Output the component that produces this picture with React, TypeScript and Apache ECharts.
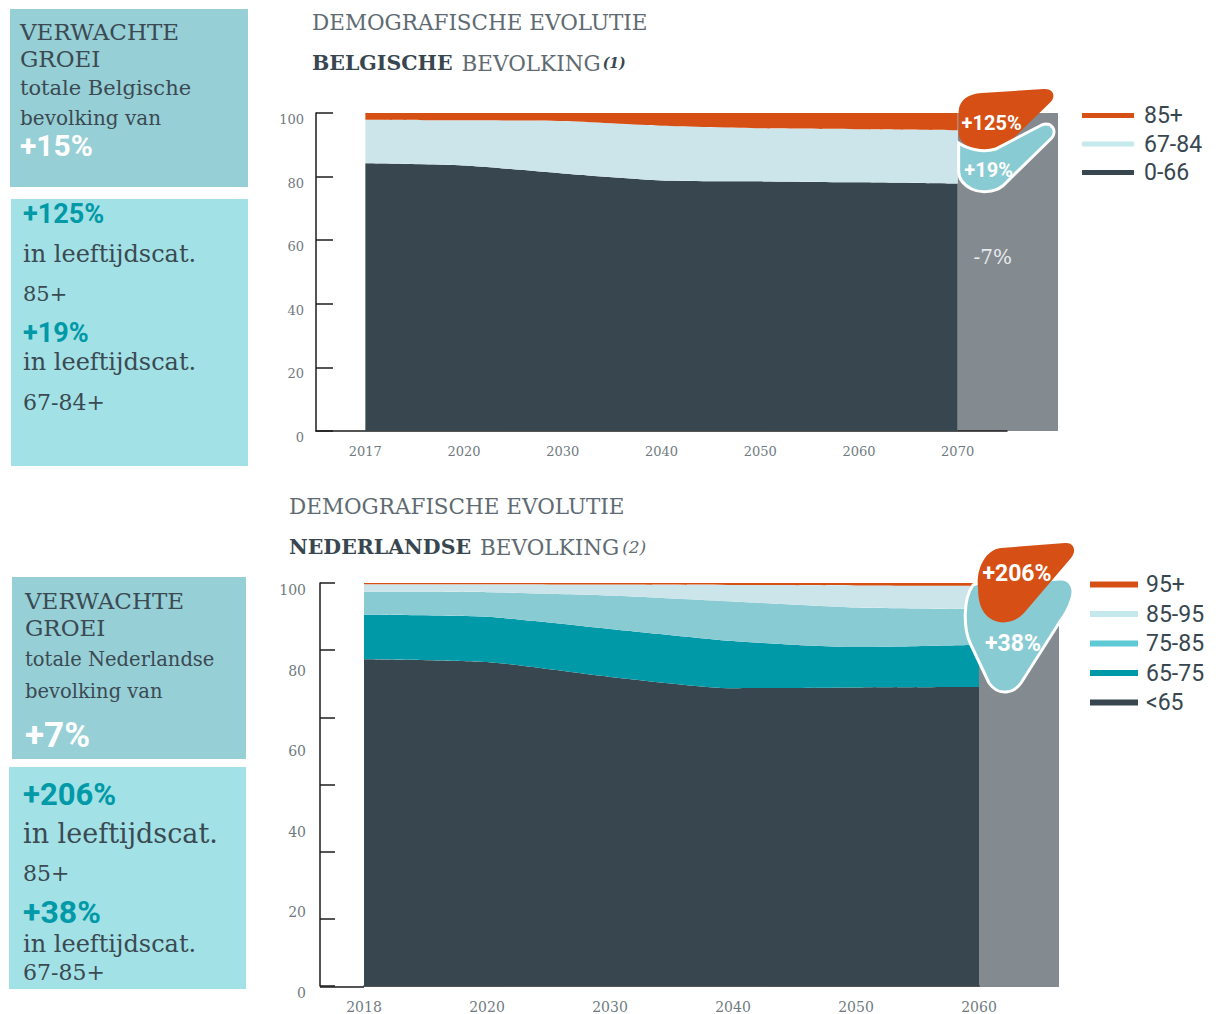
import React, { useEffect, useRef } from "react";
import * as echarts from "echarts";

// ---------- DATA ----------
const beYears = ["2017", "2020", "2030", "2040", "2050", "2060", "2070"];
const be0_66 = [84.2, 83.5, 81.0, 78.8, 78.5, 78.2, 77.8];
const be67_84 = [13.7, 14.2, 16.5, 17.2, 16.7, 16.7, 16.8];
const be85 = [2.1, 2.3, 2.5, 4.0, 4.8, 5.1, 5.4];
const beYTicks = [0, 20, 40, 60, 80, 100];
const beLegend = ["85+", "67-84", "0-66"];

const nlYears = ["2018", "2020", "2030", "2040", "2050", "2060"];
const nlU65 = [81.1, 80.4, 76.7, 73.9, 74.1, 74.2];
const nl65_75 = [11.0, 11.2, 11.9, 11.7, 10.0, 10.5];
const nl75_85 = [5.7, 6.1, 8.3, 9.8, 9.8, 8.8];
const nl85_95 = [1.9, 2.0, 2.7, 4.1, 5.5, 5.8];
const nl95 = [0.3, 0.3, 0.4, 0.5, 0.6, 0.7];
const nlYLabels = [0, 20, 40, 60, 80, 100];
const nlYTicks = [0, 16.67, 33.33, 50, 66.67, 83.33, 100];
const nlLegend = ["95+", "85-95", "75-85", "65-75", "<65"];

// ---------- STYLE / LAYOUT ----------
const C = {
  dark: "#38474f",
  orange: "#d65016",
  light: "#cbe5ea",
  lightLeg: "#c4e8ec",
  mid: "#89cbd3",
  midLeg: "#5ecad6",
  teal: "#0099a7",
  gray: "#848b90",
  box1: "#96cfd6",
  box2: "#a2e1e5",
  text: "#3b4a52",
  axisTxt: "#6f7a80",
  title: "#5f6b72",
};
const SLAB = '"DejaVu Serif", serif';
const SANS = "Roboto, sans-serif";

const T = { left: 316, top: 113, width: 691, height: 318 };
// bottom chart: y axis at 320, first category at 364
const B_AXIS_X = 320;
const B = { left: 364, top: 583, width: 615, height: 404 };
const BAR_RIGHT = 1058;

// blob shapes (local coords, origin = top-left of grey bar)
const P_BE_OR =
  "M 1 -2 C 2 -13 10 -19 24 -20 L 86 -24 C 96 -25 99 -16 92 -10 L 54 27 C 45 36 30 40 18 36 C 8 33 1 28 1 20 Z";
const P_BE_CY =
  "M 1 30 C 10 36 25 40 38 36 L 84 12 C 94 8 100 18 94 25 L 45 73 C 36 80 22 80 14 76 C 6 72 1 66 1 58 Z";
const P_NL_OR =
  "M -1 5 C -3 -12 5 -33 22 -35 L 86 -40 C 95 -41 98 -32 92 -25 L 45 30 C 36 40 22 42 12 36 C 2 30 -1 18 -1 5 Z";
const P_NL_CY =
  "M -6 2 C 4 -2 20 0 30 0 L 80 -4 C 92 -5 97 6 92 18 C 90 25 86 32 80 40 L 42 100 C 35 110 20 114 10 100 L -8 62 C -16 46 -16 16 -6 2 Z";

echarts.graphic.registerShape("blobBeOr", echarts.graphic.extendPath(P_BE_OR, {}));
echarts.graphic.registerShape("blobBeCy", echarts.graphic.extendPath(P_BE_CY, {}));
echarts.graphic.registerShape("blobNlOr", echarts.graphic.extendPath(P_NL_OR, {}));
echarts.graphic.registerShape("blobNlCy", echarts.graphic.extendPath(P_NL_CY, {}));

function txt(
  text: string,
  x: number,
  y: number,
  size: number,
  fill: string,
  family: string,
  weight: any = "normal",
  z = 20,
  align = "left",
  lineHeight?: number
) {
  return {
    type: "text",
    x,
    y,
    z,
    style: {
      text,
      fill,
      fontSize: size,
      fontFamily: family,
      fontWeight: weight,
      lineHeight,
      align,
      textAlign: align,
      verticalAlign: "middle",
      textVerticalAlign: "middle",
    },
  };
}

function area(name: string, color: string, stack: string, data: number[], xi: number) {
  return {
    name,
    type: "line",
    stack,
    xAxisIndex: xi,
    yAxisIndex: xi,
    data,
    symbol: "none",
    showSymbol: false,
    smooth: 0.2,
    lineStyle: { width: 0, color },
    itemStyle: { color },
    areaStyle: { color, opacity: 1 },
    emphasis: { disabled: true },
    silent: true,
  };
}

export default function App() {
  const ref = useRef<HTMLDivElement>(null);
  useEffect(() => {
    if (!ref.current) return;
    const chart = echarts.init(ref.current, null, { renderer: "svg" });

    const tStep = T.width / beYears.length;
    const tLastX = T.left + (beYears.length - 0.5) * tStep;
    const bLastX = B.left + B.width;

    const axisLineStyle = { color: "#1c1c1c", width: 1.5 };

    const graphic: any[] = [
      // left boxes - Belgium
      { type: "rect", z: 5, shape: { x: 10, y: 9, width: 238, height: 178 }, style: { fill: C.box1 } },
      txt("VERWACHTE", 20, 32, 23, C.text, SLAB),
      txt("GROEI", 20, 59, 23, C.text, SLAB),
      txt("totale Belgische", 20, 88, 21, C.text, SLAB),
      txt("bevolking van", 20, 118, 20, C.text, SLAB),
      txt("+15%", 20, 145, 30, "#ffffff", SANS, 700),
      { type: "rect", z: 5, shape: { x: 11, y: 199, width: 237, height: 267 }, style: { fill: C.box2 } },
      txt("+125%", 23, 214, 27, C.teal, SANS, 700),
      txt("in leeftijdscat.", 23, 254, 24, C.text, SLAB),
      txt("85+", 23, 294, 21, C.text, SLAB),
      txt("+19%", 23, 333, 27, C.teal, SANS, 700),
      txt("in leeftijdscat.", 23, 362, 24, C.text, SLAB),
      txt("67-84+", 23, 402, 22, C.text, SLAB),

      // left boxes - Netherlands
      { type: "rect", z: 5, shape: { x: 12, y: 577, width: 234, height: 182 }, style: { fill: C.box1 } },
      txt("VERWACHTE", 25, 600.5, 23, C.text, SLAB),
      txt("GROEI", 25, 627.5, 23, C.text, SLAB),
      txt("totale Nederlandse", 25, 659, 19.5, C.text, SLAB),
      txt("bevolking van", 25, 691, 19.5, C.text, SLAB),
      txt("+7%", 25, 735, 35, "#ffffff", SANS, 700),
      { type: "rect", z: 5, shape: { x: 9, y: 767, width: 237, height: 222 }, style: { fill: C.box2 } },
      txt("+206%", 23, 794, 31, C.teal, SANS, 700),
      txt("in leeftijdscat.", 23, 833, 27, C.text, SLAB),
      txt("85+", 23, 873, 22, C.text, SLAB),
      txt("+38%", 23, 912, 32, C.teal, SANS, 700),
      txt("in leeftijdscat.", 23, 944, 24, C.text, SLAB),
      txt("67-85+", 23, 972, 22, C.text, SLAB),

      // titles
      txt("DEMOGRAFISCHE EVOLUTIE", 312, 22, 21.5, C.title, SLAB),
      {
        type: "text",
        x: 312,
        y: 63,
        z: 20,
        style: {
          text: "{b|BELGISCHE}{n|BEVOLKING}{i|(1)}",
          verticalAlign: "middle",
          textVerticalAlign: "middle",
          rich: {
            b: { fontFamily: SLAB, fontWeight: 700, fontSize: 20.5, fill: C.dark, color: C.dark },
            n: { fontFamily: SLAB, fontSize: 21.5, fill: C.title, color: C.title, padding: [0, 2, 0, 9] },
            i: { fontFamily: SLAB, fontStyle: "italic", fontWeight: 700, fontSize: 14, fill: C.dark, color: C.dark },
          },
        },
      },
      txt("DEMOGRAFISCHE EVOLUTIE", 289, 506, 21.5, C.title, SLAB),
      {
        type: "text",
        x: 289,
        y: 547,
        z: 20,
        style: {
          text: "{b|NEDERLANDSE}{n|BEVOLKING}{i|(2)}",
          verticalAlign: "middle",
          textVerticalAlign: "middle",
          rich: {
            b: { fontFamily: SLAB, fontWeight: 700, fontSize: 20.5, fill: C.dark, color: C.dark },
            n: { fontFamily: SLAB, fontSize: 21.5, fill: C.title, color: C.title, padding: [0, 3, 0, 9] },
            i: { fontFamily: SLAB, fontStyle: "italic", fontSize: 17, fill: C.title, color: C.title },
          },
        },
      },

      // bottom x-axis line segment left of first year
      {
        type: "line",
        z: 1,
        shape: { x1: B_AXIS_X, y1: B.top + B.height, x2: B.left, y2: B.top + B.height },
        style: { stroke: "#1c1c1c", lineWidth: 1.5 },
      },

      // grey bars
      {
        type: "rect",
        z: -1,
        shape: { x: tLastX, y: T.top, width: BAR_RIGHT - tLastX, height: T.height },
        style: { fill: C.gray },
      },
      {
        type: "rect",
        z: -1,
        shape: { x: bLastX, y: B.top, width: BAR_RIGHT + 1 - bLastX, height: B.height },
        style: { fill: C.gray },
      },
      txt("-7%", tLastX + 35, 257, 20, "#e6eaec", SLAB, "normal", 30, "center"),

      // blobs Belgium: orange under, cyan on top with white outline
      { type: "blobBeOr", x: tLastX, y: T.top, z: 40, style: { fill: C.orange } },
      { type: "blobBeCy", x: tLastX, y: T.top, z: 41, style: { fill: C.mid, stroke: "#ffffff", lineWidth: 3 } },
      txt("+125%", tLastX + 34, 123, 20, "#ffffff", SANS, 700, 45, "center"),
      txt("+19%", tLastX + 31, 170, 20, "#ffffff", SANS, 700, 45, "center"),

      // blobs Netherlands: cyan under, orange on top
      { type: "blobNlCy", x: bLastX, y: B.top, z: 40, style: { fill: C.mid, stroke: "#ffffff", lineWidth: 3 } },
      { type: "blobNlOr", x: bLastX, y: B.top, z: 41, style: { fill: C.orange } },
      txt("+206%", bLastX + 38, 573, 23, "#ffffff", SANS, 700, 45, "center"),
      txt("+38%", bLastX + 34, 643, 23, "#ffffff", SANS, 700, 45, "center"),
    ];

    const option: any = {
      animation: false,
      backgroundColor: "#ffffff",
      grid: [
        { left: T.left, top: T.top, width: T.width, height: T.height, containLabel: false },
        { left: B.left, top: B.top, width: B.width, height: B.height, containLabel: false },
      ],
      xAxis: [
        {
          gridIndex: 0,
          type: "category",
          boundaryGap: true,
          data: beYears,
          axisLine: { lineStyle: axisLineStyle },
          axisTick: { show: false },
          axisLabel: { color: C.axisTxt, fontFamily: SLAB, fontSize: 13, margin: 14, interval: 0 },
          splitLine: { show: false },
        },
        {
          gridIndex: 1,
          type: "category",
          boundaryGap: false,
          data: nlYears,
          axisLine: { lineStyle: axisLineStyle },
          axisTick: { show: false },
          axisLabel: { color: C.axisTxt, fontFamily: SLAB, fontSize: 14, margin: 14, interval: 0 },
          splitLine: { show: false },
        },
      ],
      yAxis: [
        {
          gridIndex: 0,
          type: "value",
          min: 0,
          max: 100,
          interval: 20,
          axisLine: { show: true, lineStyle: axisLineStyle },
          axisTick: { show: true, inside: true, length: 17, lineStyle: axisLineStyle, customValues: beYTicks },
          axisLabel: {
            color: C.axisTxt,
            fontFamily: SLAB,
            fontSize: 13,
            margin: 12,
            verticalAlign: "top",
            customValues: beYTicks,
          },
          splitLine: { show: false },
        },
        {
          gridIndex: 1,
          type: "value",
          min: 0,
          max: 100,
          offset: B.left - B_AXIS_X,
          axisLine: { show: true, lineStyle: axisLineStyle },
          axisTick: { show: true, inside: true, length: 15, lineStyle: axisLineStyle, customValues: nlYTicks },
          axisLabel: {
            color: C.axisTxt,
            fontFamily: SLAB,
            fontSize: 14,
            margin: 14,
            verticalAlign: "top",
            customValues: nlYLabels,
            showMinLabel: true,
            showMaxLabel: true,
          },
          splitLine: { show: false },
        },
      ],
      legend: [
        {
          orient: "vertical",
          left: 1077,
          top: 99,
          icon: "rect",
          itemWidth: 52,
          itemHeight: 5,
          itemGap: 5.5,
          selectedMode: false,
          data: [
            { name: beLegend[0], itemStyle: { color: C.orange } },
            { name: beLegend[1], itemStyle: { color: C.lightLeg } },
            { name: beLegend[2], itemStyle: { color: C.dark } },
          ],
          textStyle: { fontFamily: SANS, fontSize: 23, color: C.dark, lineHeight: 22, padding: [0, 0, 0, 5] },
        },
        {
          orient: "vertical",
          left: 1085,
          top: 568,
          icon: "rect",
          itemWidth: 48,
          itemHeight: 6,
          itemGap: 6.5,
          selectedMode: false,
          data: [
            { name: nlLegend[0], itemStyle: { color: C.orange } },
            { name: nlLegend[1], itemStyle: { color: C.lightLeg } },
            { name: nlLegend[2], itemStyle: { color: C.midLeg } },
            { name: nlLegend[3], itemStyle: { color: C.teal } },
            { name: nlLegend[4], itemStyle: { color: C.dark } },
          ],
          textStyle: { fontFamily: SANS, fontSize: 23, color: C.dark, lineHeight: 22, padding: [0, 0, 0, 3] },
        },
      ],
      series: [
        area(beLegend[2], C.dark, "be", be0_66, 0),
        area(beLegend[1], C.light, "be", be67_84, 0),
        area(beLegend[0], C.orange, "be", be85, 0),
        area(nlLegend[4], C.dark, "nl", nlU65, 1),
        area(nlLegend[3], C.teal, "nl", nl65_75, 1),
        area(nlLegend[2], C.mid, "nl", nl75_85, 1),
        area(nlLegend[1], C.light, "nl", nl85_95, 1),
        area(nlLegend[0], C.orange, "nl", nl95, 1),
      ],
      graphic,
    };
    chart.setOption(option);
    return () => chart.dispose();
  }, []);

  return (
    <div
      ref={ref}
      style={{ position: "absolute", left: 0, top: 0, width: 1216, height: 1014, background: "#fff" }}
    />
  );
}
